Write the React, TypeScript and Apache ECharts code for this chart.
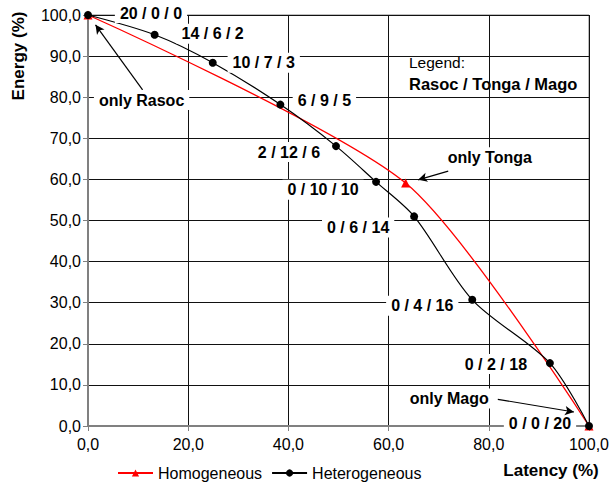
import React, { useEffect, useRef } from "react";
import * as echarts from "echarts";

// Heterogeneous configurations (Rasoc / Tonga / Mago counts)
const rasoc = [20, 14, 10, 6, 2, 0, 0, 0, 0, 0];
const tonga = [0, 6, 7, 9, 12, 10, 6, 4, 2, 0];
const mago = [0, 2, 3, 5, 6, 10, 14, 16, 18, 20];
const heteroLatency = [0, 13.3, 24.9, 38.4, 49.5, 57.5, 65.1, 76.7, 92.2, 100];
const heteroEnergy = [100, 95.2, 88.4, 78.2, 68.1, 59.4, 51.0, 30.7, 15.3, 0];

// Homogeneous configurations
const homoLatency = [0, 63.4, 100];
const homoEnergy = [100, 59.1, 0];

// Axis ticks
const xTicks = [0, 20, 40, 60, 80, 100];
const yTicks = [0, 10, 20, 30, 40, 50, 60, 70, 80, 90, 100];

// Annotations
const annotationTexts = ["only Rasoc", "only Tonga", "only Mago"];

// Layout only (label offsets / annotation anchors, in px and data space)
const labelOffsets = [
  [63, -2], [58, -1], [51, 0], [44, -4], [-47, 6],
  [-53, 8], [-56, 11], [-50, 6], [-54, 1], [-49, -3],
];
const annotationAnchors = [[10.7, 79.3], [80.2, 65.4], [72.1, 6.7]];
const arrowLines = [
  [[10.9, 81.8], [1.5, 97.6]],
  [[71.9, 62.0], [65.9, 59.9]],
  [[81.8, 6.5], [97.0, 3.4]],
];

const FONT = "'Liberation Sans', Arial, sans-serif";
const fmt = (v: number) => v.toFixed(1).replace(".", ",");

export default function App() {
  const ref = useRef<HTMLDivElement>(null);
  useEffect(() => {
    if (!ref.current) return;
    const chart = echarts.init(ref.current, undefined, { renderer: "svg" });
    const heteroData = heteroLatency.map((x, i) => ({
      value: [x, heteroEnergy[i]],
      label: {
        offset: labelOffsets[i],
        formatter: `${rasoc[i]} / ${tonga[i]} / ${mago[i]}`,
      },
    }));
    const homoData = homoLatency.map((x, i) => [x, homoEnergy[i]]);
    chart.setOption({
      animation: false,
      backgroundColor: "#fff",
      textStyle: { fontFamily: FONT },
      grid: {
        left: 88,
        right: 21,
        top: 15,
        bottom: 56,
        show: true,
        borderColor: "#808080",
        borderWidth: 1,
        backgroundColor: "#fff",
      },
      xAxis: {
        type: "value",
        min: xTicks[0],
        max: xTicks[xTicks.length - 1],
        interval: 20,
        axisLine: { show: true, onZero: false, lineStyle: { color: "#808080", width: 2 } },
        axisTick: { show: true, length: 5, lineStyle: { color: "#808080" } },
        axisLabel: { formatter: fmt, color: "#000", fontSize: 16, fontFamily: FONT, margin: 10 },
        splitLine: { show: true, lineStyle: { color: "#111", width: 1 } },
      },
      yAxis: {
        type: "value",
        min: yTicks[0],
        max: yTicks[yTicks.length - 1],
        interval: 10,
        axisLine: { show: true, onZero: false, lineStyle: { color: "#808080", width: 2 } },
        axisTick: { show: true, length: 5, lineStyle: { color: "#808080" } },
        axisLabel: { formatter: fmt, color: "#000", fontSize: 16, fontFamily: FONT, margin: 7 },
        splitLine: { show: true, lineStyle: { color: "#111", width: 1 } },
      },
      legend: {
        left: 117,
        top: 465,
        padding: 0,
        itemWidth: 35,
        itemHeight: 9,
        itemGap: 9,
        textStyle: { fontSize: 16, color: "#000", fontFamily: FONT, padding: [0, 0, 0, 0] },
        data: ["Homogeneous", "Heterogeneous"],
      },
      series: [
        {
          name: "Homogeneous",
          type: "line",
          data: homoData,
          smooth: 0.25,
          symbol: "triangle",
          symbolSize: 9,
          color: "#ff0000",
          lineStyle: { color: "#ff0000", width: 1.3 },
          itemStyle: { color: "#ff0000" },
          z: 2,
        },
        {
          name: "Heterogeneous",
          type: "line",
          data: heteroData,
          smooth: 0.3,
          symbol: "circle",
          symbolSize: 8,
          color: "#000",
          lineStyle: { color: "#000", width: 1.2 },
          itemStyle: { color: "#000" },
          z: 3,
          label: {
            show: true,
            position: "inside",
            color: "#000",
            fontSize: 16,
            fontWeight: "bold",
            fontFamily: FONT,
            backgroundColor: "#fff",
            padding: [2, 5],
          },
          markLine: {
            silent: true,
            symbol: ["none", "arrow"],
            symbolSize: [7, 9],
            lineStyle: { color: "#000", width: 1.2, type: "solid" },
            label: { show: false },
            data: arrowLines.map((a) => [{ coord: a[0] }, { coord: a[1] }]),
          },
          markPoint: {
            silent: true,
            symbol: "circle",
            symbolSize: 1,
            itemStyle: { color: "rgba(0,0,0,0)" },
            label: {
              show: true,
              position: "inside",
              formatter: "{b}",
              color: "#000",
              fontSize: 16,
              fontWeight: "bold",
              fontFamily: FONT,
              backgroundColor: "#fff",
              padding: [2, 5],
            },
            data: annotationTexts.map((t, i) => ({ name: t, coord: annotationAnchors[i] })),
          },
        },
      ],
      graphic: [
        {
          type: "group",
          left: 403,
          top: 53,
          children: [
            { type: "rect", shape: { x: 0, y: 0, width: 185, height: 45 }, style: { fill: "#fff" } },
            {
              type: "text",
              x: 6,
              y: 9,
              style: { text: "Legend:", font: `15.5px ${FONT}`, fill: "#000", textVerticalAlign: "middle" },
            },
            {
              type: "text",
              x: 6,
              y: 31,
              style: {
                text: "Rasoc / Tonga / Mago",
                font: `bold 16.5px ${FONT}`,
                fill: "#000",
                textVerticalAlign: "middle",
              },
            },
          ],
        },
        {
          type: "text",
          x: 18,
          y: 56,
          rotation: Math.PI / 2,
          style: {
            text: "Energy (%)",
            font: `bold 17px ${FONT}`,
            fill: "#000",
            textAlign: "center",
            textVerticalAlign: "middle",
          },
        },
        {
          type: "text",
          x: 551,
          y: 470,
          style: {
            text: "Latency (%)",
            font: `bold 17px ${FONT}`,
            fill: "#000",
            textAlign: "center",
            textVerticalAlign: "middle",
          },
        },
      ],
    });
    return () => chart.dispose();
  }, []);
  return (
    <div
      ref={ref}
      style={{ position: "fixed", left: 0, top: 0, width: 612, height: 482, background: "#fff" }}
    />
  );
}
